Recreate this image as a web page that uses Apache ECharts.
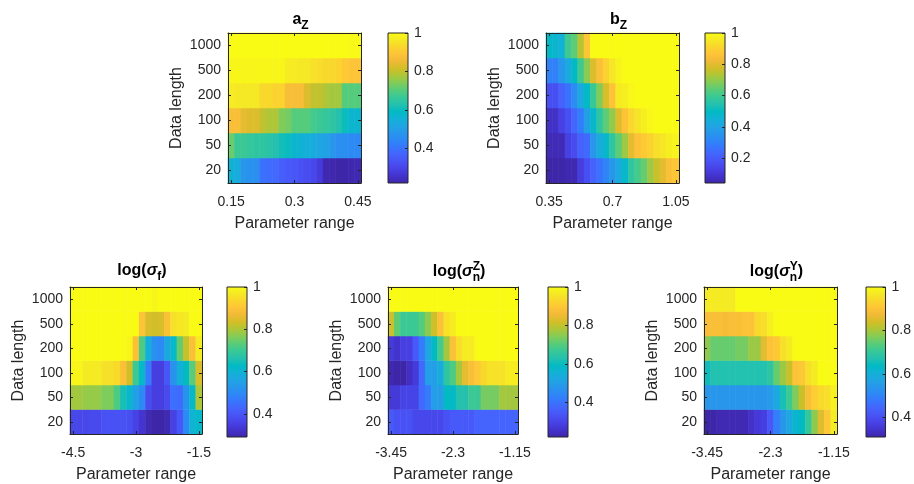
<!DOCTYPE html>
<html>
<head>
<meta charset="utf-8">
<script src="https://cdn.jsdelivr.net/npm/echarts@6/dist/echarts.min.js"></script>
<style>
  html, body { margin: 0; padding: 0; background: #fff; }
  #main { width: 914px; height: 484px; }
</style>
</head>
<body>
<div id="main"></div>
<script>
// y categories, bottom to top
const dataLength = ['20', '50', '100', '200', '500', '1000'];

// parameter grids (x categories)
const azRange = [0.15, 0.165, 0.18, 0.195, 0.21, 0.225, 0.24, 0.255, 0.27, 0.285, 0.3, 0.315, 0.33, 0.345, 0.36, 0.375, 0.39, 0.405, 0.42, 0.435, 0.45];
const bzRange = [0.35, 0.385, 0.42, 0.455, 0.49, 0.525, 0.56, 0.595, 0.63, 0.665, 0.7, 0.735, 0.77, 0.805, 0.84, 0.875, 0.91, 0.945, 0.98, 1.015, 1.05];
const sfRange = [-4.5, -4.35, -4.2, -4.05, -3.9, -3.75, -3.6, -3.45, -3.3, -3.15, -3, -2.85, -2.7, -2.55, -2.4, -2.25, -2.1, -1.95, -1.8, -1.65, -1.5];
const snRange = [-3.45, -3.335, -3.22, -3.105, -2.99, -2.875, -2.76, -2.645, -2.53, -2.415, -2.3, -2.185, -2.07, -1.955, -1.84, -1.725, -1.61, -1.495, -1.38, -1.265, -1.15];

// one row per data length (20 ... 1000)
const azValues = [
  [0.56, 0.54, 0.48, 0.47, 0.46, 0.40, 0.39, 0.38, 0.36, 0.35, 0.34, 0.33, 0.32, 0.31, 0.28, 0.23, 0.225, 0.22, 0.22, 0.225, 0.23],
  [0.72, 0.67, 0.67, 0.66, 0.65, 0.65, 0.64, 0.63, 0.61, 0.60, 0.57, 0.56, 0.55, 0.54, 0.52, 0.51, 0.48, 0.46, 0.46, 0.45, 0.45],
  [0.875, 0.875, 0.84, 0.83, 0.83, 0.80, 0.78, 0.78, 0.74, 0.73, 0.70, 0.70, 0.70, 0.68, 0.67, 0.66, 0.65, 0.63, 0.60, 0.57, 0.57],
  [0.97, 0.96, 0.96, 0.96, 0.96, 0.93, 0.93, 0.92, 0.92, 0.87, 0.87, 0.87, 0.83, 0.80, 0.80, 0.78, 0.77, 0.77, 0.70, 0.70, 0.70],
  [0.99, 0.99, 0.99, 0.99, 0.99, 0.99, 0.99, 0.99, 0.99, 0.97, 0.97, 0.96, 0.96, 0.95, 0.94, 0.93, 0.93, 0.92, 0.90, 0.89, 0.89],
  [1, 1, 1, 1, 1, 1, 1, 1, 1, 1, 1, 1, 1, 1, 1, 1, 1, 1, 1, 0.995, 0.995]
];
const bzValues = [
  [0.04, 0.04, 0.04, 0.05, 0.05, 0.12, 0.17, 0.22, 0.26, 0.31, 0.36, 0.42, 0.48, 0.57, 0.61, 0.65, 0.71, 0.76, 0.80, 0.85, 0.87],
  [0.06, 0.06, 0.06, 0.13, 0.16, 0.22, 0.24, 0.36, 0.43, 0.48, 0.57, 0.64, 0.71, 0.80, 0.86, 0.88, 0.90, 0.93, 0.95, 0.97, 0.98],
  [0.08, 0.08, 0.13, 0.17, 0.23, 0.29, 0.39, 0.48, 0.57, 0.64, 0.70, 0.79, 0.86, 0.91, 0.94, 0.97, 0.99, 1, 1, 1, 1],
  [0.17, 0.17, 0.22, 0.26, 0.33, 0.42, 0.49, 0.59, 0.68, 0.78, 0.86, 0.96, 0.97, 0.99, 1, 1, 1, 1, 1, 1, 1],
  [0.30, 0.30, 0.36, 0.42, 0.49, 0.60, 0.69, 0.79, 0.85, 0.90, 0.95, 0.98, 1, 1, 1, 1, 1, 1, 1, 1, 1],
  [0.49, 0.47, 0.45, 0.60, 0.64, 0.74, 0.87, 1, 1, 1, 1, 1, 1, 1, 1, 1, 1, 1, 1, 1, 1]
];
const sfValues = [
  [0.37, 0.37, 0.37, 0.375, 0.375, 0.39, 0.39, 0.39, 0.39, 0.385, 0.36, 0.33, 0.30, 0.29, 0.29, 0.30, 0.355, 0.40, 0.50, 0.60, 0.62],
  [0.79, 0.79, 0.78, 0.78, 0.78, 0.76, 0.76, 0.72, 0.65, 0.61, 0.55, 0.50, 0.38, 0.35, 0.35, 0.375, 0.45, 0.44, 0.52, 0.62, 0.80],
  [0.99, 0.99, 0.97, 0.97, 0.97, 0.95, 0.95, 0.94, 0.89, 0.83, 0.70, 0.62, 0.47, 0.35, 0.35, 0.40, 0.52, 0.59, 0.63, 0.73, 0.84],
  [1, 1, 1, 1, 1, 1, 1, 1, 1, 0.99, 0.89, 0.72, 0.59, 0.51, 0.50, 0.57, 0.62, 0.74, 0.82, 0.89, 0.97],
  [1, 1, 1, 1, 1, 1, 1, 1, 1, 1, 1, 0.90, 0.84, 0.83, 0.84, 0.89, 0.95, 0.96, 0.97, 1, 1],
  [1, 1, 1, 1, 1, 1, 1, 1, 1, 1, 1, 1, 1, 0.99, 1, 1, 1, 1, 1, 1, 1]
];
const snzValues = [
  [0.35, 0.33, 0.33, 0.33, 0.31, 0.31, 0.31, 0.31, 0.31, 0.33, 0.35, 0.35, 0.35, 0.35, 0.37, 0.37, 0.37, 0.37, 0.37, 0.37, 0.37],
  [0.275, 0.275, 0.30, 0.30, 0.30, 0.38, 0.42, 0.50, 0.50, 0.59, 0.59, 0.63, 0.63, 0.67, 0.67, 0.73, 0.73, 0.73, 0.77, 0.77, 0.77],
  [0.23, 0.22, 0.22, 0.25, 0.28, 0.38, 0.50, 0.50, 0.54, 0.65, 0.69, 0.77, 0.84, 0.875, 0.90, 0.93, 0.95, 0.95, 0.95, 0.97, 0.97],
  [0.28, 0.26, 0.29, 0.29, 0.35, 0.42, 0.52, 0.59, 0.68, 0.77, 0.88, 0.94, 0.97, 0.97, 1, 1, 1, 1, 1, 1, 1],
  [0.81, 0.71, 0.67, 0.67, 0.67, 0.70, 0.75, 0.81, 0.88, 0.95, 0.97, 1, 1, 1, 1, 1, 1, 1, 1, 1, 1],
  [1, 1, 1, 1, 1, 1, 1, 1, 1, 1, 1, 1, 1, 1, 1, 1, 1, 1, 1, 1, 1]
];
const snyValues = [
  [0.31, 0.31, 0.32, 0.32, 0.32, 0.32, 0.32, 0.34, 0.36, 0.37, 0.42, 0.49, 0.54, 0.58, 0.62, 0.64, 0.70, 0.78, 0.85, 0.91, 0.97],
  [0.54, 0.54, 0.54, 0.54, 0.54, 0.54, 0.54, 0.54, 0.54, 0.54, 0.55, 0.58, 0.66, 0.71, 0.77, 0.83, 0.89, 0.92, 0.94, 0.95, 0.98],
  [0.65, 0.67, 0.67, 0.67, 0.67, 0.67, 0.67, 0.67, 0.67, 0.67, 0.69, 0.75, 0.79, 0.83, 0.90, 0.91, 0.95, 0.97, 1, 1, 1],
  [0.78, 0.75, 0.75, 0.75, 0.75, 0.76, 0.76, 0.79, 0.79, 0.855, 0.90, 0.91, 0.95, 0.97, 1, 1, 1, 1, 1, 1, 1],
  [0.89, 0.89, 0.89, 0.88, 0.89, 0.89, 0.90, 0.90, 0.94, 0.95, 0.98, 1, 1, 1, 1, 1, 1, 1, 1, 1, 1],
  [0.97, 0.97, 0.97, 0.97, 0.97, 1, 1, 1, 1, 1, 1, 1, 1, 1, 1, 1, 1, 1, 1, 1, 1]
];

// colour limits of each colorbar and its tick values
const cLimits = [[0.22, 1], [0.04, 1], [0.29, 1], [0.22, 1], [0.31, 1]];
const cbTicks = [0.2, 0.4, 0.6, 0.8, 1];

// parula
const parula = ['#3e26a8', '#4332cb', '#4741e5', '#4852f4', '#4563fd', '#3875fe', '#2e87f7', '#2796eb',
  '#20a5e3', '#12b1d6', '#02bac3', '#24c1ae', '#37c897', '#57cc7a', '#81cc59', '#abc739',
  '#d1bf27', '#f0ba36', '#fec338', '#fad62d', '#f5e924', '#f9fb15'];

const font = '"Liberation Sans", Arial, Helvetica, sans-serif';
const ink = '#262626';

// plot box and colorbar box, px: [left, top, width, height]
const panels = [
  { x: azRange, v: azValues, plot: [228, 33, 133, 150], bar: [388, 33, 20, 150],
    title: [{ t: 'a', k: 'm' }, { sub: 'Z' }], base: 25 },
  { x: bzRange, v: bzValues, plot: [546, 33, 133, 150], bar: [705, 33, 20, 150],
    title: [{ t: 'b', k: 'm' }, { sub: 'Z' }], base: 25 },
  { x: sfRange, v: sfValues, plot: [70, 287, 132, 150], bar: [227, 287, 20, 150],
    title: [{ t: 'log(', k: 'm' }, { t: 'σ', k: 'g' }, { sub: 'f' }, { t: ')', k: 'm' }], base: 276 },
  { x: snRange, v: snzValues, plot: [388, 287, 130, 150], bar: [548, 287, 20, 150],
    title: [{ t: 'log(', k: 'm' }, { t: 'σ', k: 'g' }, { sub: 'n', sup: 'Z' }, { t: ')', k: 'm' }], base: 277 },
  { x: snRange, v: snyValues, plot: [704, 287, 133, 150], bar: [866, 287, 20, 150],
    title: [{ t: 'log(', k: 'm' }, { t: 'σ', k: 'g' }, { sub: 'n', sup: 'Y' }, { t: ')', k: 'm' }], base: 277 }
];

const ctx = document.createElement('canvas').getContext('2d');
function textWidth(str, f) {
  ctx.font = f;
  return ctx.measureText(str).width;
}
function textEl(str, x, baseline, f, fs) {
  return {
    type: 'text', x: x, y: baseline - 0.35 * fs, silent: true,
    style: { text: str, font: f, fill: '#000', textAlign: 'left', textVerticalAlign: 'middle' }
  };
}
function titleElements(parts, cx, base) {
  const fonts = { m: 'bold 16px ' + font, g: 'italic bold 16px ' + font };
  const small = 'bold 12px ' + font;
  const widths = parts.map(p => p.t !== undefined
    ? textWidth(p.t, fonts[p.k])
    : Math.max(textWidth(p.sub || '', small), textWidth(p.sup || '', small)));
  let x = cx - widths.reduce((a, b) => a + b, 0) / 2;
  const els = [];
  parts.forEach((p, k) => {
    if (p.t !== undefined) {
      els.push(textEl(p.t, x, base, fonts[p.k], 16));
    } else {
      if (p.sub) els.push(textEl(p.sub, x, base + 5, small, 12));
      if (p.sup) els.push(textEl(p.sup, x, base - 6, small, 12));
    }
    x += widths[k];
  });
  return els;
}

const chart = echarts.init(document.getElementById('main'));
const grid = [], xAxis = [], yAxis = [], series = [], visualMap = [], graphic = [];

panels.forEach((p, i) => {
  const g = grid.length;
  grid.push({ left: p.plot[0], top: p.plot[1], width: p.plot[2], height: p.plot[3] });
  const tickStyle = { show: true, inside: true, length: 3, lineStyle: { color: ink, width: 1 } };
  const lineStyle = { show: true, onZero: false, lineStyle: { color: ink, width: 1 } };
  const labelStyle = { color: ink, fontSize: 14, fontFamily: font };

  xAxis.push({
    type: 'category', gridIndex: g, data: p.x, position: 'bottom', z: 10,
    axisLine: lineStyle,
    axisTick: Object.assign({ alignWithLabel: true, interval: 9 }, tickStyle),
    axisLabel: Object.assign({ interval: 9, margin: 12 }, labelStyle),
    splitLine: { show: false },
    name: 'Parameter range', nameLocation: 'middle', nameGap: 33,
    nameTextStyle: { color: ink, fontSize: 16, fontFamily: font }
  });
  xAxis.push({
    type: 'category', gridIndex: g, data: p.x, position: 'top', z: 10,
    axisLine: lineStyle,
    axisTick: Object.assign({ alignWithLabel: true, interval: 9 }, tickStyle),
    axisLabel: { show: false }, splitLine: { show: false }
  });
  yAxis.push({
    type: 'category', gridIndex: g, data: dataLength, position: 'left', z: 10,
    axisLine: lineStyle,
    axisTick: Object.assign({ alignWithLabel: true, interval: 0 }, tickStyle),
    axisLabel: Object.assign({ interval: 0, margin: 7 }, labelStyle),
    splitLine: { show: false },
    name: 'Data length', nameLocation: 'middle', nameGap: 43, nameRotate: 90,
    nameTextStyle: { color: ink, fontSize: 16, fontFamily: font }
  });
  yAxis.push({
    type: 'category', gridIndex: g, data: dataLength, position: 'right', z: 10,
    axisLine: lineStyle,
    axisTick: Object.assign({ alignWithLabel: true, interval: 0 }, tickStyle),
    axisLabel: { show: false }, splitLine: { show: false }
  });

  const cells = [];
  p.v.forEach((row, r) => row.forEach((val, c) => cells.push([c, r, val])));
  series.push({
    type: 'heatmap', xAxisIndex: xAxis.length - 2, yAxisIndex: yAxis.length - 2,
    data: cells, progressive: 0, emphasis: { disabled: true }, silent: true
  });
  visualMap.push({
    type: 'continuous', show: false, seriesIndex: series.length - 1, dimension: 2,
    min: cLimits[i][0], max: cLimits[i][1], inRange: { color: parula }
  });

  // colorbar
  const cg = grid.length;
  grid.push({
    left: p.bar[0], top: p.bar[1], width: p.bar[2], height: p.bar[3],
    show: true, borderColor: ink, borderWidth: 1,
    backgroundColor: new echarts.graphic.LinearGradient(0, 1, 0, 0,
      parula.map((c, k) => ({ offset: k / (parula.length - 1), color: c })))
  });
  const ticks = cbTicks.filter(t => t >= cLimits[i][0]);
  xAxis.push({ type: 'category', gridIndex: cg, data: [''], show: false });
  yAxis.push({
    type: 'value', gridIndex: cg, position: 'right', min: cLimits[i][0], max: cLimits[i][1], z: 10,
    axisLine: { show: false }, splitLine: { show: false },
    axisTick: Object.assign({ customValues: ticks }, tickStyle),
    axisLabel: Object.assign({ customValues: ticks, margin: 6 }, labelStyle)
  });

  const cx = p.plot[0] + p.plot[2] / 2 + 6;
  titleElements(p.title, cx, p.base).forEach(e => graphic.push(e));
});

chart.setOption({
  backgroundColor: '#fff',
  animation: false,
  grid: grid,
  xAxis: xAxis,
  yAxis: yAxis,
  visualMap: visualMap,
  series: series,
  graphic: graphic
});
</script>
</body>
</html>
